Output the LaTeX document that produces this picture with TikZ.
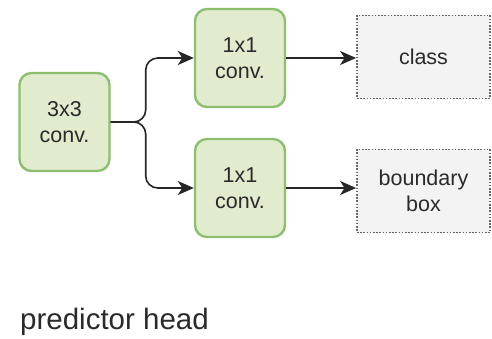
\documentclass[tikz,border=0pt]{standalone}
\usepackage{fontspec}
\setmainfont{Liberation Sans}
\usetikzlibrary{arrows.meta}
\definecolor{gfill}{HTML}{E1EBCD}
\definecolor{gdraw}{HTML}{8CC06E}
\definecolor{bfill}{HTML}{F3F3F3}
\definecolor{bdraw}{HTML}{666666}
\definecolor{txt}{HTML}{2A2A2A}
\tikzset{
  conv/.style={draw=gdraw, fill=gfill, line width=2.4pt, rounded corners=12pt,
    minimum width=90pt, minimum height=98pt, align=center, text=txt,
    font=\fontsize{21.5}{26}\selectfont},
  outbox/.style={draw=bdraw, fill=bfill, line width=1.8pt, dash pattern=on 1.6pt off 1.6pt,
    minimum width=133pt, minimum height=83pt, align=center, text=txt,
    font=\fontsize{21.5}{26}\selectfont},
  conn/.style={draw=black!85, line width=1.6pt, -{Stealth[length=16pt,width=14pt,inset=4.5pt]}},
}
\begin{document}
\begin{tikzpicture}[x=1pt,y=-1pt]
\useasboundingbox (0,0) rectangle (492,339);
\node[conv] (a) at (64.5,122) {3x3\\conv.};
\node[conv] (b1) at (240,58) {1x1\\conv.};
\node[conv] (b2) at (240,188) {1x1\\conv.};
\node[outbox] (c1) at (423.5,57) {class};
\node[outbox] (c2) at (423.5,191) {boundary\\box};
\node[anchor=west, inner sep=0pt, text=txt, font=\fontsize{29.5}{32}\selectfont] (t) at (20,322) {predictor head};
\draw[conn, rounded corners=12pt] (a.east) -- ++(35,0) |- (b1.west);
\draw[conn, rounded corners=12pt] (a.east) -- ++(35,0) |- (b2.west);
\draw[conn] (b1.east) -- (c1.west |- b1.east);
\draw[conn] (b2.east) -- (c2.west |- b2.east);
\end{tikzpicture}
\end{document}
